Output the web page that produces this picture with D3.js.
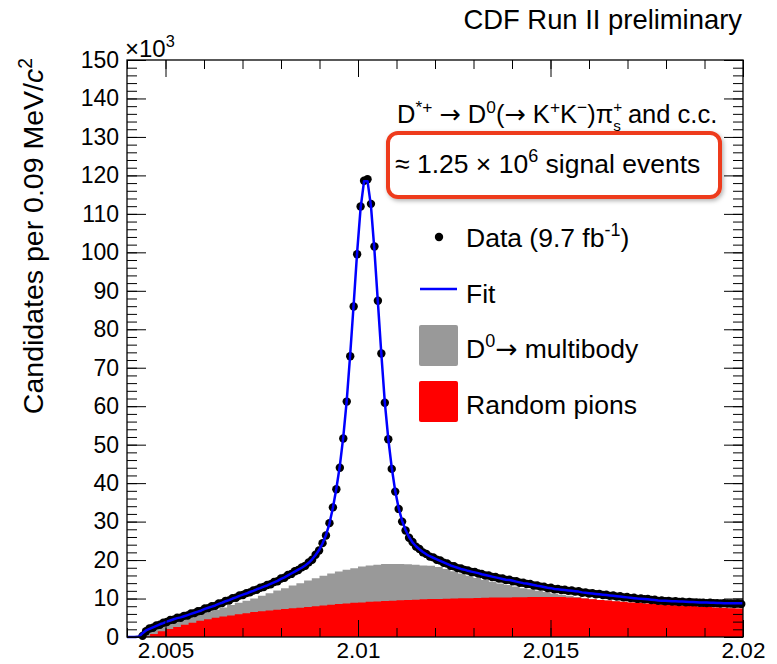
<!DOCTYPE html>
<html><head><meta charset="utf-8">
<script src="https://cdn.jsdelivr.net/npm/d3@7"></script>
<style>body{margin:0;background:#fff} text{font-family:"Liberation Sans",Arial,Helvetica,sans-serif;fill:#000}</style>
</head><body><svg id="c" width="777" height="664"></svg>
<script>
// ---------- data ----------
const xDomain = [2.004, 2.020];
const yDomain = [0, 150];            // in units of 10^3
const nBins = 178;                   // 0.09 MeV bins
const dataVals = [
 null,null,null,null,0.3,1.5,2.2,2.4,3.0,3.2,
 3.7,3.9,4.4,4.5,5.0,5.0,5.5,5.6,6.1,6.2,
 6.7,6.8,7.4,7.5,8.0,8.1,8.7,8.8,9.4,9.5,
 10.1,10.2,10.8,10.9,11.4,11.6,12.1,12.3,12.8,13.0,
 13.5,13.7,14.3,14.5,15.2,15.4,16.1,16.4,17.1,17.4,
 18.1,18.5,19.4,20.1,21.4,22.5,24.4,26.4,29.6,33.7,
 38.4,44.0,51.6,61.2,73.0,85.9,99.5,111.9,118.6,119.0,
 112.6,101.5,87.4,73.7,60.9,51.4,43.7,37.8,33.3,30.0,
 27.7,25.8,24.7,23.5,22.9,22.0,21.6,20.9,20.7,20.1,
 19.9,19.3,19.1,18.5,18.4,17.9,17.8,17.4,17.3,16.9,
 16.9,16.5,16.4,16.0,16.0,15.6,15.6,15.2,15.2,14.8,
 14.9,14.5,14.5,14.1,14.1,13.8,13.8,13.4,13.4,13.1,
 13.1,12.7,12.8,12.4,12.5,12.2,12.3,12.0,12.1,11.8,
 11.9,11.5,11.6,11.3,11.4,11.1,11.2,10.9,11.0,10.7,
 10.8,10.5,10.6,10.3,10.4,10.1,10.2,9.9,10.0,9.8,
 9.9,9.6,9.7,9.4,9.5,9.3,9.4,9.2,9.3,9.1,
 9.2,9.0,9.1,9.0,9.0,8.9,8.9,8.8,8.9,8.8,
 8.8,8.7,8.8,8.7,8.7,8.6,8.7,8.6
];
const fitVals = [
 0,0,0,0.1,1.0,1.7,2.1,2.5,2.9,3.3,
 3.6,4.0,4.3,4.6,4.9,5.1,5.4,5.7,6.0,6.3,
 6.6,6.9,7.3,7.6,7.9,8.2,8.6,8.9,9.3,9.6,
 10.0,10.3,10.7,11.0,11.3,11.7,12.0,12.4,12.7,13.1,
 13.4,13.8,14.2,14.6,15.1,15.5,16.0,16.5,17.0,17.5,
 18.0,18.6,19.3,20.2,21.3,22.6,24.3,26.5,29.5,33.6,
 38.6,44.5,52.0,61.5,73.5,86.5,100.0,111.5,118.5,118.5,
 112.0,100.5,87.0,73.5,61.0,51.5,44.0,38.0,33.5,30.2,
 27.8,26.0,24.6,23.6,22.8,22.1,21.5,21.0,20.6,20.2,
 19.8,19.4,19.0,18.6,18.3,18.0,17.7,17.5,17.2,17.0,
 16.8,16.6,16.3,16.1,15.9,15.7,15.5,15.3,15.1,14.9,
 14.8,14.6,14.4,14.2,14.0,13.9,13.7,13.5,13.3,13.2,
 13.0,12.8,12.7,12.5,12.4,12.3,12.2,12.1,12.0,11.9,
 11.8,11.6,11.5,11.4,11.3,11.2,11.1,11.0,10.9,10.8,
 10.7,10.6,10.5,10.4,10.3,10.2,10.1,10.0,9.95,9.9,
 9.8,9.7,9.6,9.5,9.45,9.4,9.35,9.3,9.3,9.25,
 9.2,9.15,9.1,9.1,9.05,9.0,9.0,8.95,8.9,8.9,
 8.85,8.85,8.8,8.8,8.8,8.8,8.8,8.8
];
const compBins = 80;                 // component histograms, 0.2 MeV bins
const randomPions = [
 0,0,0.1,0.8,1.5,2.1,2.6,3.2,3.7,4.2,
 4.6,5.0,5.3,5.6,5.9,6.2,6.5,6.7,6.9,7.1,
 7.3,7.5,7.6,7.8,8.0,8.2,8.4,8.6,8.7,8.9,
 9.0,9.15,9.25,9.35,9.45,9.55,9.65,9.7,9.8,9.85,
 9.9,9.95,10.0,10.05,10.1,10.15,10.2,10.25,10.3,10.3,
 10.35,10.35,10.4,10.4,10.4,10.4,10.4,10.3,10.2,10.0,
 9.8,9.65,9.5,9.3,9.15,9.0,8.85,8.7,8.6,8.45,
 8.35,8.25,8.15,8.05,7.95,7.85,7.7,7.6,7.5,7.4
];
const multibody = [
 0,0.3,0.9,1.1,1.3,1.5,1.7,1.7,1.8,1.9,
 2.0,2.1,2.4,2.7,3.0,3.2,3.5,4.0,4.5,5.0,
 5.4,5.9,6.4,6.9,7.3,7.7,8.1,8.4,8.8,9.0,
 9.3,9.45,9.55,9.6,9.55,9.45,9.25,9.1,8.8,8.65,
 8.3,7.75,7.1,6.45,5.8,5.2,4.65,4.1,3.6,3.2,
 2.75,2.35,2.0,1.6,1.3,0.9,0.6,0.4,0.2,0.1,
 0,0,0,0,0,0,0,0,0,0,
 0,0,0,0,0,0,0,0,0,0
];
const xTickValues = [2.005, 2.01, 2.015, 2.02];
const xTickLabels = ["2.005", "2.01", "2.015", "2.02"];
const yTickValues = [0,10,20,30,40,50,60,70,80,90,100,110,120,130,140,150];

// ---------- layout ----------
const svg = d3.select("#c");
const L = 127, R = 743, T = 60, B = 637;
const x = d3.scaleLinear().domain(xDomain).range([L, R]);
const y = d3.scaleLinear().domain(yDomain).range([B, T]);
const binW = (xDomain[1] - xDomain[0]) / nBins;
const cBinW = (xDomain[1] - xDomain[0]) / compBins;

const defs = svg.append("defs");
const f = defs.append("filter").attr("id","sh").attr("x","-10%").attr("y","-20%").attr("width","130%").attr("height","160%");
f.append("feDropShadow").attr("dx",1.5).attr("dy",2).attr("stdDeviation",2).attr("flood-color","#000").attr("flood-opacity",0.3);

// ---------- component histograms (stacked) ----------
const stepPts = (vals) => {
  const pts = vals.map((v,j)=>[xDomain[0]+j*cBinW, v]);
  pts.push([xDomain[1], vals[vals.length-1]]);
  return pts;
};
const area = d3.area().curve(d3.curveStepAfter).x(d=>x(d[0])).y0(y(0)).y1(d=>y(d[1]));
svg.append("path").attr("d", area(stepPts(randomPions.map((r,j)=>r+multibody[j])))).attr("fill","#999999");
svg.append("path").attr("d", area(stepPts(randomPions))).attr("fill","#ff0000");

// ---------- data points ----------
const pts = dataVals.map((v,k)=>({m: xDomain[0]+(k+0.5)*binW, v})).filter(d=>d.v!==null);
svg.append("g").selectAll("circle").data(pts).join("circle")
  .attr("cx", d=>x(d.m)).attr("cy", d=>y(d.v)).attr("r", 4.2).attr("fill","#000");

// ---------- fit ----------
const fitPts = [[xDomain[0],0]].concat(fitVals.map((v,k)=>[xDomain[0]+(k+0.5)*binW, v]));
fitPts.push([xDomain[1], fitVals[fitVals.length-1]]);
svg.append("path").attr("d", d3.line().x(d=>x(d[0])).y(d=>y(d[1]))(fitPts))
  .attr("fill","none").attr("stroke","#0000ff").attr("stroke-width",2.5).attr("stroke-linejoin","round");

// ---------- axes ----------
const xMinor = d3.range(0,17).map(i=>xDomain[0]+i*0.001);
const yMinor = d3.range(0,76).map(i=>i*2);
const styleAxis = g => { g.select(".domain").remove(); g.selectAll("line").attr("stroke","#000").attr("stroke-width",1); };

svg.append("g").attr("transform",`translate(0,${B})`)
  .call(d3.axisBottom(x).tickValues(xMinor).tickFormat("").tickSizeInner(-9).tickSizeOuter(0)).call(styleAxis);
svg.append("g").attr("transform",`translate(0,${B})`)
  .call(d3.axisBottom(x).tickValues(xTickValues).tickFormat((d,i)=>xTickLabels[i]).tickSizeInner(-17).tickSizeOuter(0).tickPadding(5))
  .call(styleAxis).call(g=>g.selectAll("text").attr("font-size",22.5).attr("font-family",null));
svg.append("g").attr("transform",`translate(0,${T})`)
  .call(d3.axisTop(x).tickValues(xMinor).tickFormat("").tickSizeInner(-9).tickSizeOuter(0)).call(styleAxis);
svg.append("g").attr("transform",`translate(0,${T})`)
  .call(d3.axisTop(x).tickValues(xTickValues).tickFormat("").tickSizeInner(-17).tickSizeOuter(0)).call(styleAxis);

svg.append("g").attr("transform",`translate(${L},0)`)
  .call(d3.axisLeft(y).tickValues(yMinor).tickFormat("").tickSizeInner(-10).tickSizeOuter(0)).call(styleAxis);
svg.append("g").attr("transform",`translate(${L},0)`)
  .call(d3.axisLeft(y).tickValues(yTickValues).tickFormat(d3.format("d")).tickSizeInner(-19).tickSizeOuter(0).tickPadding(8))
  .call(styleAxis).call(g=>g.selectAll("text").attr("font-size",23).attr("font-family",null));
svg.append("g").attr("transform",`translate(${R},0)`)
  .call(d3.axisRight(y).tickValues(yMinor).tickFormat("").tickSizeInner(-10).tickSizeOuter(0)).call(styleAxis);
svg.append("g").attr("transform",`translate(${R},0)`)
  .call(d3.axisRight(y).tickValues(yTickValues).tickFormat("").tickSizeInner(-19).tickSizeOuter(0)).call(styleAxis);

svg.append("rect").attr("x",L).attr("y",T).attr("width",R-L).attr("height",B-T)
  .attr("fill","none").attr("stroke","#000").attr("stroke-width",1.3);

// ---------- rich text helper ----------
function rich(parent, px, py, size, parts, anchor, transform) {
  const t = parent.append("text").attr("x",px).attr("y",py).attr("font-size",size).attr("text-anchor",anchor||"start");
  if (transform) t.attr("transform", transform);
  let shift = 0;
  parts.forEach(p=>{
    const ts = t.append("tspan").text(p.t);
    const target = p.s==="sup" ? -(p.up||0.4)*size : p.s==="sub" ? (p.down||0.25)*size : 0;
    ts.attr("dy", target-shift); shift = target;
    if (p.s) ts.attr("font-size", size*(p.sc||0.68));
    if (p.dx) ts.attr("dx", p.dx);
    if (p.i) ts.attr("font-style","italic");
    if (p.ff) ts.attr("font-family", p.ff);
  });
  return t;
}
const AR = "DejaVu Sans";

// multiplier
rich(svg, 125, 57, 24, [{t:"×10"},{t:"3",s:"sup"}]);

// axis title
rich(svg, 0, 0, 28.5, [{t:"Candidates per 0.09 MeV/"},{t:"c",i:true},{t:"2",s:"sup"}], "end", "translate(43,58) rotate(-90)");

// header
svg.append("text").attr("x",742).attr("y",29).attr("font-size",27.4).attr("text-anchor","end").text("CDF Run II preliminary");

// decay title
rich(svg, 397, 123, 25.5, [{t:"D"},{t:"*+",s:"sup"},{t:" "},{t:"→",ff:AR},{t:" D"},{t:"0",s:"sup"},{t:"("},{t:"→",ff:AR},{t:" K"},{t:"+",s:"sup"},{t:"K"},{t:"−",s:"sup"},
  {t:")π"},{t:"+",s:"sup",up:0.45,sc:0.6},{t:"s",s:"sub",down:0.32,sc:0.6,dx:-9},{t:" and c.c."}]);

// highlighted box
svg.append("rect").attr("x",388).attr("y",133).attr("width",332).attr("height",64).attr("rx",10)
  .attr("fill","#fff").attr("stroke","#ee3b1f").attr("stroke-width",4).attr("filter","url(#sh)");
rich(svg, 395, 173, 26.5, [{t:"≈ 1.25"},{t:" × "},{t:"10"},{t:"6",s:"sup"},{t:" signal events"}]);

// legend
const lg = svg.append("g");
lg.append("circle").attr("cx",439).attr("cy",237).attr("r",4.2).attr("fill","#000");
rich(lg, 466, 247, 26.5, [{t:"Data (9.7 fb"},{t:"-1",s:"sup"},{t:")"}]);
lg.append("line").attr("x1",420).attr("x2",457).attr("y1",289).attr("y2",289).attr("stroke","#0000ff").attr("stroke-width",2.5);
rich(lg, 466, 303, 26.5, [{t:"Fit"}]);
lg.append("rect").attr("x",419).attr("y",325).attr("width",39).attr("height",41).attr("rx",2).attr("fill","#999999");
rich(lg, 466, 358, 26.5, [{t:"D"},{t:"0",s:"sup"},{t:"→",ff:AR},{t:" multibody"}]);
lg.append("rect").attr("x",419).attr("y",381).attr("width",39).attr("height",41).attr("rx",2).attr("fill","#ff0000");
rich(lg, 466, 414, 26.5, [{t:"Random pions"}]);
</script></body></html>
